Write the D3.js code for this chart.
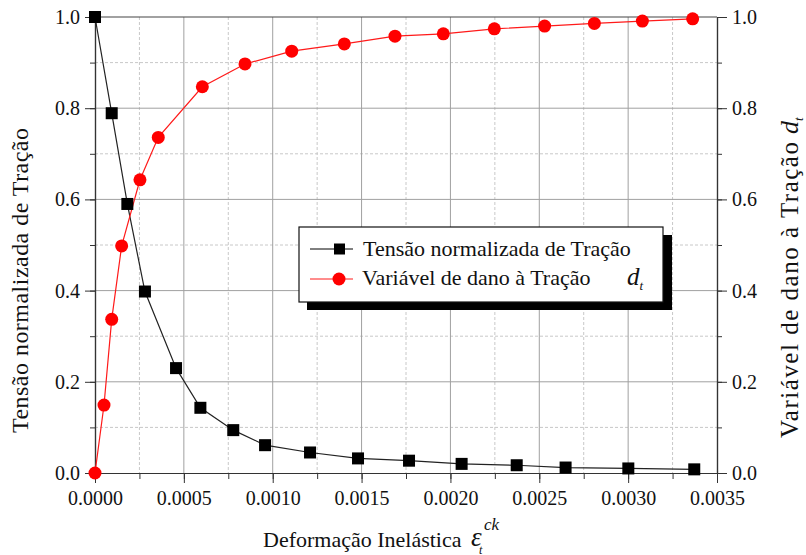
<!DOCTYPE html>
<html>
<head>
<meta charset="utf-8">
<script src="https://cdn.jsdelivr.net/npm/d3@7"></script>
<style>
  body { margin: 0; background: #fff; }
</style>
</head>
<body>
<svg id="chart"></svg>
<script>
// tensão normalizada (quadrados pretos)
let strainTension = [0, 0.000094, 0.000182, 0.000281, 0.000456, 0.000593, 0.000778, 0.000957, 0.00121, 0.00148, 0.001767, 0.002063, 0.002373, 0.002648, 0.003001, 0.003372];
let tension = [1.0, 0.789, 0.59, 0.398, 0.23, 0.143, 0.094, 0.061, 0.045, 0.032, 0.027, 0.020, 0.017, 0.012, 0.010, 0.008];

// variável de dano (círculos vermelhos)
let strainDamage = [0, 0.0000507, 0.000094, 0.00015, 0.000253, 0.000356, 0.000604, 0.000844, 0.001107, 0.001403, 0.001688, 0.00196, 0.002247, 0.00253, 0.00281, 0.00308, 0.003363];
let damage = [0, 0.149, 0.337, 0.498, 0.643, 0.736, 0.847, 0.897, 0.925, 0.941, 0.958, 0.963, 0.974, 0.980, 0.986, 0.991, 0.996];

let xTicks = [0, 0.0005, 0.001, 0.0015, 0.002, 0.0025, 0.003, 0.0035];
let yTicks = [0, 0.2, 0.4, 0.6, 0.8, 1.0];

let w = 806, h = 555;
let pLeft = 95, pRight = 717, pTop = 17, pBottom = 473;
let serif = '"Liberation Serif", Tinos, "Times New Roman", serif';

let svg = d3.select("#chart").attr("width", w).attr("height", h)
  .style("font-family", serif);

let x = d3.scaleLinear().domain([0, 0.0035]).range([pLeft, pRight]);
let y = d3.scaleLinear().domain([0, 1]).range([pBottom, pTop]);
let y2 = d3.scaleLinear().domain([0, 1]).range([pBottom, pTop]);

let xMinor = d3.range(0, 0.0035001, 0.00025);
let yMinor = d3.range(0, 1.0001, 0.1);

// texto com a fonte serifada
function label(sel, size) {
  return sel.append("text").style("font-family", serif).style("font-size", size + "px").attr("fill", "#111");
}

// grade
let grid = svg.append("g");
grid.selectAll(".vminor")
  .data(xMinor.filter((d, i) => i % 2 == 1))
  .enter().append("line")
  .attr("x1", d => x(d)).attr("x2", d => x(d))
  .attr("y1", pTop).attr("y2", pBottom)
  .attr("stroke", "#c8c8c8").attr("stroke-dasharray", "3,2");
grid.selectAll(".hminor")
  .data(yMinor.filter((d, i) => i % 2 == 1))
  .enter().append("line")
  .attr("x1", pLeft).attr("x2", pRight)
  .attr("y1", d => y(d)).attr("y2", d => y(d))
  .attr("stroke", "#c8c8c8").attr("stroke-dasharray", "3,2");
grid.selectAll(".vmajor")
  .data(xTicks.slice(1, -1))
  .enter().append("line")
  .attr("x1", d => x(d)).attr("x2", d => x(d))
  .attr("y1", pTop).attr("y2", pBottom)
  .attr("stroke", "#a0a0a0");
grid.selectAll(".hmajor")
  .data(yTicks.slice(1, -1))
  .enter().append("line")
  .attr("x1", pLeft).attr("x2", pRight)
  .attr("y1", d => y(d)).attr("y2", d => y(d))
  .attr("stroke", "#a0a0a0");

// moldura superior
svg.append("line")
  .attr("x1", pLeft).attr("x2", pRight).attr("y1", pTop).attr("y2", pTop)
  .attr("stroke", "#444").attr("stroke-width", 1.2);

function styleAxis(g) {
  g.attr("font-family", null);
  g.select(".domain").attr("stroke", "#333").attr("stroke-width", 1.2);
  g.selectAll(".tick line").attr("stroke", "#333");
  g.selectAll(".tick text").style("font-family", serif).style("font-size", "20px").attr("fill", "#111");
}

// eixos menores (só traços)
svg.append("g").attr("transform", "translate(0," + pBottom + ")")
  .call(d3.axisBottom(x).tickValues(xMinor).tickSize(6).tickSizeOuter(0).tickFormat(""))
  .call(styleAxis);
svg.append("g").attr("transform", "translate(" + pLeft + ",0)")
  .call(d3.axisLeft(y).tickValues(yMinor).tickSize(5).tickSizeOuter(0).tickFormat(""))
  .call(styleAxis);
svg.append("g").attr("transform", "translate(" + pRight + ",0)")
  .call(d3.axisRight(y2).tickValues(yMinor).tickSize(5).tickSizeOuter(0).tickFormat(""))
  .call(styleAxis);

// eixos principais
svg.append("g").attr("transform", "translate(0," + pBottom + ")")
  .call(d3.axisBottom(x).tickValues(xTicks).tickSize(10).tickSizeOuter(0).tickPadding(8).tickFormat(d3.format(".4f")))
  .call(styleAxis);
svg.append("g").attr("transform", "translate(" + pLeft + ",0)")
  .call(d3.axisLeft(y).tickValues(yTicks).tickSize(10).tickSizeOuter(0).tickPadding(5).tickFormat(d3.format(".1f")))
  .call(styleAxis);
svg.append("g").attr("transform", "translate(" + pRight + ",0)")
  .call(d3.axisRight(y2).tickValues(yTicks).tickSize(10).tickSizeOuter(0).tickPadding(5).tickFormat(d3.format(".1f")))
  .call(styleAxis);

// séries
let tensionData = strainTension.map((d, i) => [d, tension[i]]);
let damageData = strainDamage.map((d, i) => [d, damage[i]]);

let line = d3.line().x(d => x(d[0])).y(d => y(d[1]));
let line2 = d3.line().x(d => x(d[0])).y(d => y2(d[1]));

svg.append("path").datum(tensionData)
  .attr("d", line).attr("fill", "none").attr("stroke", "#222").attr("stroke-width", 1.2);
svg.append("path").datum(damageData)
  .attr("d", line2).attr("fill", "none").attr("stroke", "#ff1a1a").attr("stroke-width", 1.2);

svg.selectAll(".sq").data(tensionData).enter().append("rect")
  .attr("x", d => x(d[0]) - 6).attr("y", d => y(d[1]) - 6)
  .attr("width", 12).attr("height", 12).attr("fill", "#000");
svg.selectAll(".ci").data(damageData).enter().append("circle")
  .attr("cx", d => x(d[0])).attr("cy", d => y2(d[1]))
  .attr("r", 6.5).attr("fill", "#ff0000");

// legenda
let lg = svg.append("g");
lg.append("rect").attr("x", 307).attr("y", 235).attr("width", 365).attr("height", 75).attr("fill", "#000");
lg.append("rect").attr("x", 299).attr("y", 227).attr("width", 364).attr("height", 75)
  .attr("fill", "#fff").attr("stroke", "#111").attr("stroke-width", 1.2);

lg.append("line").attr("x1", 310).attr("x2", 353).attr("y1", 249).attr("y2", 249).attr("stroke", "#000");
lg.append("rect").attr("x", 334).attr("y", 243.5).attr("width", 11).attr("height", 11).attr("fill", "#000");
label(lg, 22).attr("x", 363).attr("y", 256).text("Tensão normalizada de Tração");

lg.append("line").attr("x1", 310).attr("x2", 353).attr("y1", 279).attr("y2", 279).attr("stroke", "#ff1a1a");
lg.append("circle").attr("cx", 339).attr("cy", 279).attr("r", 6.5).attr("fill", "#ff0000");
label(lg, 22).attr("x", 362).attr("y", 285).text("Variável de dano à Tração");
let dt = label(lg, 25).attr("x", 627).attr("y", 285).style("font-style", "italic");
dt.append("tspan").text("d");
dt.append("tspan").attr("dy", 5).style("font-size", "13px").text("t");

// títulos dos eixos
label(svg, 24)
  .attr("transform", "translate(28,433) rotate(-90)")
  .attr("textLength", 305).attr("lengthAdjust", "spacing")
  .text("Tensão normalizada de Tração");

label(svg, 25)
  .attr("transform", "translate(798,438) rotate(-90)")
  .attr("textLength", 296).attr("lengthAdjust", "spacing")
  .text("Variável de dano à Tração");
let yd = label(svg, 26)
  .attr("transform", "translate(798,134) rotate(-90)")
  .style("font-style", "italic");
yd.append("tspan").text("d");
yd.append("tspan").attr("dy", 5).style("font-size", "13px").text("t");

label(svg, 22).attr("x", 263).attr("y", 547).text("Deformação Inelástica");
label(svg, 27).attr("x", 471).attr("y", 546).style("font-style", "italic").text("ε");
label(svg, 17).attr("x", 484).attr("y", 530).style("font-style", "italic").text("ck");
label(svg, 12).attr("x", 479).attr("y", 554).style("font-style", "italic").text("t");
</script>
</body>
</html>
